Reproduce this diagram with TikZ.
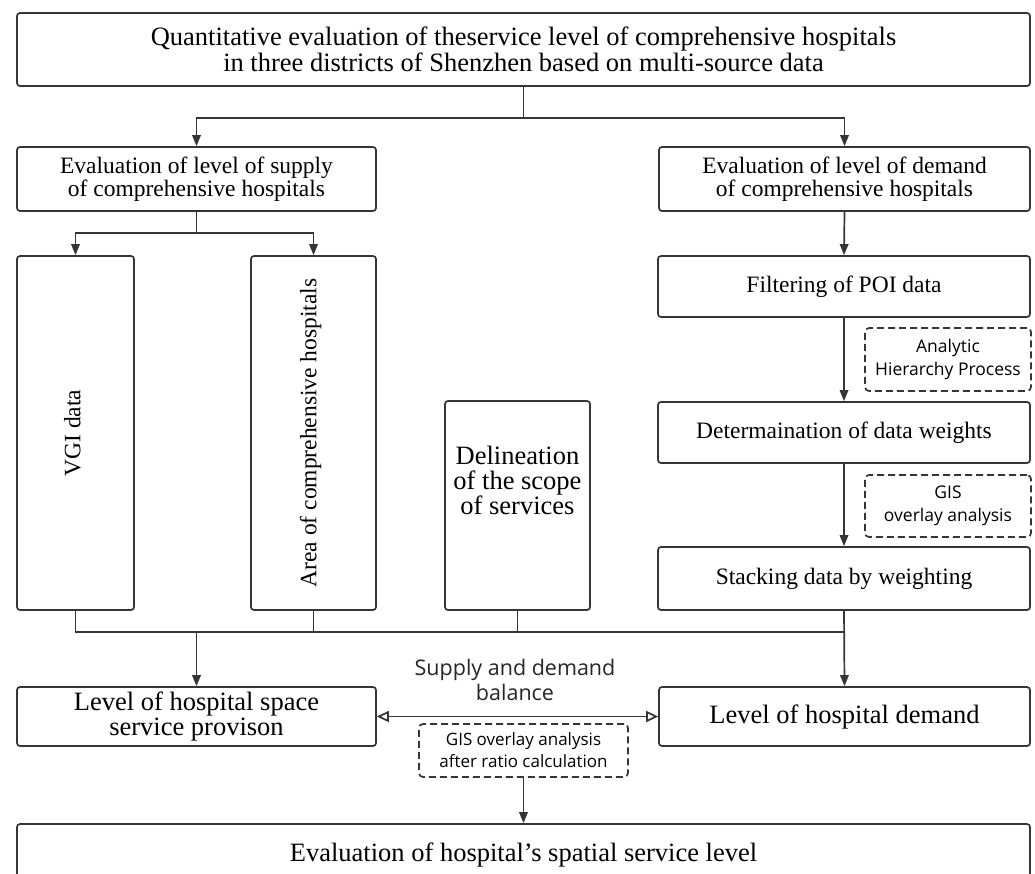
\documentclass[tikz,border=0pt]{standalone}
\usepackage{fontspec}
\setmainfont{Liberation Serif}
\newfontfamily\sansf{Open Sans}
\usetikzlibrary{arrows.meta}
\definecolor{lc}{HTML}{353535}
\begin{document}
\begin{tikzpicture}[x=1pt,y=-1pt,
  box/.style={draw=lc, line width=1.7pt, rounded corners=3pt, align=center, inner sep=0pt, text=black,
    font=\fontsize{23.5}{23}\selectfont},
  big/.style={font=\fontsize{26.5}{25}\selectfont},
  dbox/.style={draw=lc, line width=1.7pt, dash pattern=on 7pt off 4pt, rounded corners=4pt, align=center, inner sep=0pt,
    font=\sansf\fontsize{17.5}{23}\selectfont},
  ln/.style={draw=lc, line width=1.7pt},
  arr/.style={ln, -{Triangle[length=11pt,width=8.5pt]}},
]
\useasboundingbox (0,0) rectangle (1035,873);
\fill[white] (0,0) rectangle (1035,873);

\node[box, minimum width=1013pt, minimum height=73pt, font=\fontsize{26.5}{26}\selectfont] (title) at (523.5,49.5)
  {Quantitative evaluation of theservice level of comprehensive hospitals\\in three districts of Shenzhen based on multi-source data};

\node[box, minimum width=359pt, minimum height=64pt] (sup) at (196.5,179) {Evaluation of level of supply\\of comprehensive hospitals};
\node[box, minimum width=371pt, minimum height=64pt] (dem) at (844.5,179) {Evaluation of level of demand\\of comprehensive hospitals};

\node[box, minimum width=117pt, minimum height=354pt] (vgi) at (75.5,433) {};
\node[font=\fontsize{23.5}{23}\selectfont, rotate=90] (vgit) at ([xshift=-3pt]vgi.center) {VGI data};
\node[box, minimum width=125pt, minimum height=354pt] (area) at (313.5,433) {};
\node[font=\fontsize{23.5}{23}\selectfont, rotate=90] (areat) at ([xshift=-3pt]area.center) {Area of comprehensive hospitals};
\node[box, minimum width=145pt, minimum height=209pt] (delin) at (517.5,505.5) {};
\node[big, align=center, inner sep=0pt] (delint) at ([yshift=25pt]delin.center) {Delineation\\of the scope\\of services};

\node[box, minimum width=372pt, minimum height=61pt] (filt) at (844,286.5) {Filtering of POI data};
\node[dbox, minimum width=166pt, minimum height=63pt] (ahp) at (948,359.5) {Analytic\\Hierarchy Process};
\node[box, minimum width=372pt, minimum height=61pt] (det) at (844,432.5) {Determaination of data weights};
\node[dbox, minimum width=166pt, minimum height=62pt] (gis) at (948,506) {GIS\\overlay analysis};
\node[box, minimum width=372pt, minimum height=63pt] (stack) at (844,578.5) {Stacking data by weighting};

\node[box, big, minimum width=359pt, minimum height=59pt] (lvs) at (196.5,716.5) {Level of hospital space\\service provison};
\node[box, big, minimum width=371pt, minimum height=59pt] (lvd) at (844.5,716.5) {Level of hospital demand};

\node[font=\sansf\fontsize{21.5}{25}\selectfont, align=center, text=black!85] (bal) at (515,680) {Supply and demand\\balance};
\node[dbox, minimum width=209pt, minimum height=53pt, font=\sansf\fontsize{17}{22}\selectfont] (gr) at (523.5,750.5) {GIS overlay analysis\\after ratio calculation};

\node[box, big, minimum width=1013pt, minimum height=62pt] (bot) at (523.5,855) {Evaluation of hospital's spatial service level};

% connectors
\draw[ln] (title.south) -- ++(0,31) coordinate (t1);
\draw[arr] (t1) -| (sup.north);
\draw[arr] (t1) -| (dem.north);
\draw[ln] (sup.south) -- ++(0,21) coordinate (s1);
\draw[arr] (s1) -| (vgi.north);
\draw[arr] (s1) -| (area.north);
\draw[arr] (dem.south) -- (filt.north);
\draw[arr] (filt.south) -- (det.north);
\draw[arr] (det.south) -- (stack.north);

\coordinate (jy) at (0,632);
\draw[ln] (vgi.south) -- (vgi.south |- jy) -- (stack.south |- jy);
\draw[ln] (area.south) -- (area.south |- jy);
\draw[ln] (delin.south) -- (delin.south |- jy);
\draw[arr] (stack.south) -- (lvd.north);
\draw[arr] (sup.south |- jy) -- (lvs.north);
\draw[ln, {Triangle[open,length=12pt,width=11pt]}-{Triangle[open,length=12pt,width=11pt]}] (lvs.east) -- (lvd.west);
\draw[arr] (gr.south) -- (bot.north);
\end{tikzpicture}
\end{document}
